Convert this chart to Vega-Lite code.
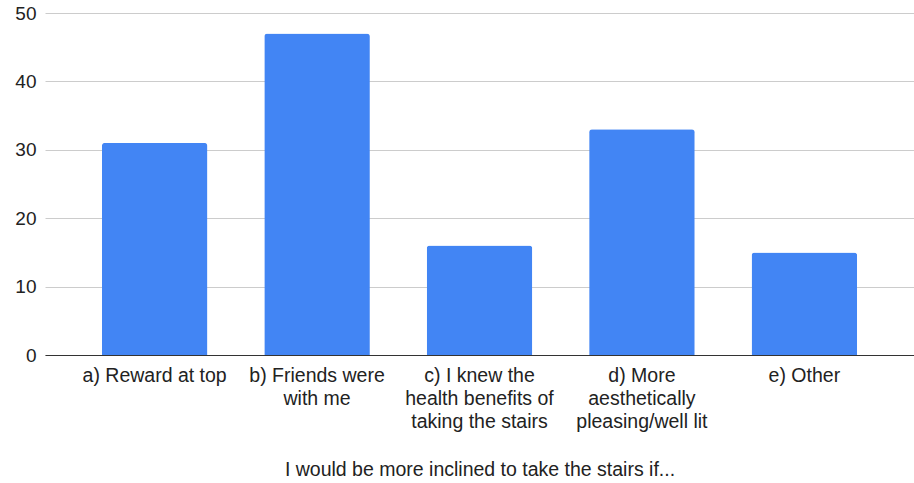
{
  "$schema": "https://vega.github.io/schema/vega-lite/v6.json",
  "width": 869,
  "height": 342,
  "padding": {"left": 45, "top": 13, "right": 0, "bottom": 128},
  "autosize": {"type": "none"},
  "background": "white",
  "config": {
    "view": {"stroke": null},
    "font": "Liberation Sans"
  },
  "data": {
    "values": [
      {"reason": "a) Reward at top", "count": 31},
      {"reason": "b) Friends were\nwith me", "count": 47},
      {"reason": "c) I knew the\nhealth benefits of\ntaking the stairs", "count": 16},
      {"reason": "d) More\naesthetically\npleasing/well lit", "count": 33},
      {"reason": "e) Other", "count": 15}
    ]
  },
  "mark": {"type": "bar", "color": "#4285F4", "cornerRadiusTopLeft": 3, "cornerRadiusTopRight": 3},
  "encoding": {
    "x": {
      "field": "reason",
      "type": "nominal",
      "sort": null,
      "scale": {"paddingInner": 0.35, "paddingOuter": 0.35},
      "axis": {
        "title": "I would be more inclined to take the stairs if...",
        "titleFont": "Liberation Sans",
        "titleFontSize": 19.5,
        "titleFontWeight": "normal",
        "titleColor": "#222222",
        "titlePadding": 30,
        "labelExpr": "split(datum.value, '\\n')",
        "labelAngle": 0,
        "labelFont": "Liberation Sans",
        "labelFontSize": 19.5,
        "labelLineHeight": 23,
        "labelColor": "#222222",
        "labelPadding": 11,
        "labelLimit": 300,
        "ticks": false,
        "domainColor": "#333333",
        "domainWidth": 1
      }
    },
    "y": {
      "field": "count",
      "type": "quantitative",
      "scale": {"domain": [0, 50], "nice": false},
      "axis": {
        "title": null,
        "values": [0, 10, 20, 30, 40, 50],
        "labelFont": "Liberation Sans",
        "labelFontSize": 19,
        "labelColor": "#222222",
        "labelPadding": 9,
        "ticks": false,
        "domain": false,
        "gridColor": "#cccccc",
        "gridWidth": 1
      }
    }
  }
}
